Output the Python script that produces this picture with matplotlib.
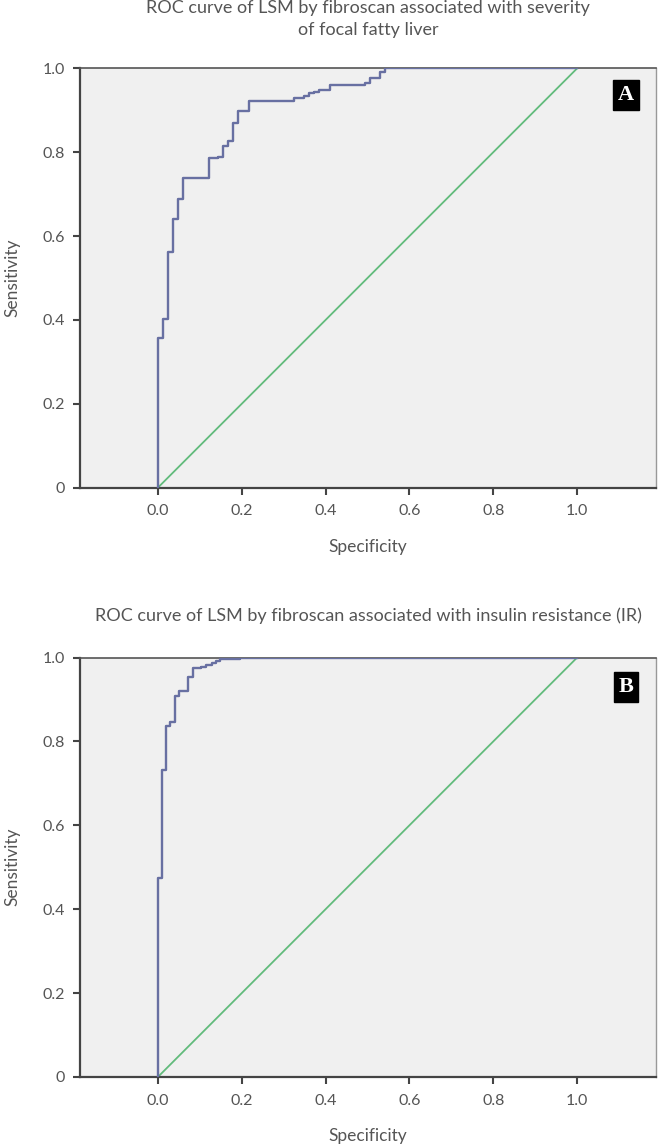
import matplotlib
matplotlib.use("Agg")
import matplotlib.pyplot as plt

# Panel A: ROC of LSM by fibroscan vs severity of focal fatty liver
fpr_a = [0.0, 0.0, 0.012, 0.024, 0.037, 0.048, 0.061, 0.121, 0.144, 0.156, 0.168,
         0.180, 0.192, 0.217, 0.325, 0.349, 0.361, 0.373, 0.385, 0.410, 0.493,
         0.505, 0.529, 0.541, 1.0]
tpr_a = [0.0, 0.358, 0.402, 0.561, 0.641, 0.689, 0.738, 0.785, 0.789, 0.815, 0.827,
         0.869, 0.899, 0.923, 0.928, 0.935, 0.940, 0.944, 0.948, 0.960, 0.966,
         0.976, 0.990, 1.0, 1.0]

# Panel B: ROC of LSM by fibroscan vs insulin resistance
fpr_b = [0.0, 0.0, 0.0095, 0.020, 0.030, 0.040, 0.050, 0.071, 0.083, 0.104,
         0.115, 0.130, 0.138, 0.148, 0.195, 1.0]
tpr_b = [0.0, 0.474, 0.733, 0.837, 0.846, 0.909, 0.920, 0.954, 0.974, 0.977,
         0.982, 0.987, 0.992, 0.997, 1.0, 1.0]

ref_line = [0.0, 1.0]

titles = ["ROC curve of LSM by fibroscan associated with severity\nof focal fatty liver",
          "ROC curve of LSM by fibroscan associated with insulin resistance (IR)"]
panel_letters = ["A", "B"]
xticks = [0.0, 0.2, 0.4, 0.6, 0.8, 1.0]
xtick_labels = ["0.0", "0.2", "0.4", "0.6", "0.8", "1.0"]
yticks = [0.0, 0.2, 0.4, 0.6, 0.8, 1.0]
ytick_labels = ["0", "0.2", "0.4", "0.6", "0.8", "1.0"]

W, H = 661, 1144
fig = plt.figure(figsize=(W / 100, H / 100), dpi=100)
fig.patch.set_facecolor("white")

FONT = "Lato"
TXT = "#555555"
curve_col = "#6870a2"
diag_col = "#62bb7c"

axes_px = [(80, 68.3, 656, 487.7), (80, 657.5, 656, 1077.0)]
data = [(fpr_a, tpr_a), (fpr_b, tpr_b)]

for i, (l, t, r, b) in enumerate(axes_px):
    ax = fig.add_axes([l / W, 1 - b / H, (r - l) / W, (b - t) / H])
    ax.set_facecolor("#f0f0f0")
    x, y = data[i]
    ax.step(x, y, where="post", color=curve_col, lw=1.7, zorder=3)
    ax.plot(ref_line, ref_line, color=diag_col, lw=1.3, zorder=2)
    ax.set_xlim(-0.1857, 1.188)
    ax.set_ylim(0, 1)
    ax.set_xticks(xticks)
    ax.set_xticklabels(xtick_labels, fontfamily=FONT, fontsize=11.5, color=TXT)
    ax.set_yticks(yticks)
    ax.set_yticklabels(ytick_labels, fontfamily=FONT, fontsize=11.5, color=TXT)
    ax.tick_params(axis="both", direction="out", length=5, width=1.5, color="#444444")
    ax.tick_params(axis="x", pad=7)
    ax.tick_params(axis="y", pad=6)
    for s in ["left", "bottom"]:
        ax.spines[s].set_color("#444444")
        ax.spines[s].set_linewidth(1.6)
    ax.spines["top"].set_color("#555555")
    ax.spines["top"].set_linewidth(1.2)
    ax.spines["right"].set_color("#999999")
    ax.spines["right"].set_linewidth(1.0)
    ax.set_xlabel("Specificity", fontfamily=FONT, fontsize=12.5, color=TXT, labelpad=15)
    ax.set_ylabel("Sensitivity", fontfamily=FONT, fontsize=12.5, color=TXT)
    ax.yaxis.set_label_coords(-(80 - 20) / (r - l), 0.5)
    ax.set_title(titles[i], fontfamily=FONT, fontsize=13, color=TXT, pad=24 if i == 0 else 26,
                 linespacing=1.45)
    cy = 95 if i == 0 else 687
    fig.text(626 / W, 1 - cy / H, panel_letters[i], fontfamily="Liberation Serif",
             fontweight="bold", fontsize=16, color="white", ha="center", va="center",
             bbox=dict(boxstyle="square,pad=0.22", facecolor="black", edgecolor="black"))

fig.savefig("out.png", dpi=100)
